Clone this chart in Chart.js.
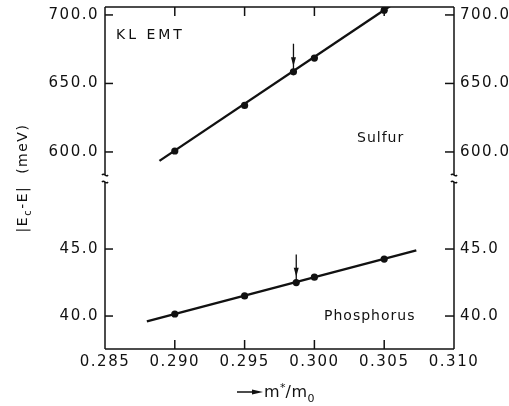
<!DOCTYPE html>
<html>
<head>
<meta charset="utf-8">
<script src="https://cdn.jsdelivr.net/npm/chart.js@4"></script>
<style>
  html, body { margin: 0; padding: 0; background: #fff; }
  canvas { display: block; }
</style>
</head>
<body>
<canvas id="chart" width="509" height="406"></canvas>
<script>
const xTicks = [0.285, 0.290, 0.295, 0.300, 0.305, 0.310];
const sulfurTicks = [600, 650, 700];
const phosTicks = [40, 45];

const sulfurX = [0.2900, 0.2950, 0.2985, 0.3000, 0.3050];
const sulfurY = [600.7, 634.0, 658.5, 668.5, 703.5];
const sulfurFitX = [0.2889, 0.3055];
const sulfurFitY = [593.5, 707.0];

const phosX = [0.2900, 0.2950, 0.2987, 0.3000, 0.3050];
const phosY = [40.15, 41.5, 42.5, 42.9, 44.25];
const phosFitX = [0.2880, 0.3073];
const phosFitY = [39.6, 44.9];

// marked points: x, arrow start, arrow end
const sulfurArrow = [0.2985, 679, 659];
const phosArrow = [0.2987, 44.6, 42.55];

const ink = "#111";
const font = "DejaVu Sans";

function pts(xs, ys) {
  return xs.map((x, i) => ({ x: x, y: ys[i] }));
}

function fixTicks(list) {
  return (scale) => { scale.ticks = list.map((v) => ({ value: v })); };
}

function fixSize(w, h) {
  return (scale) => {
    if (w) scale.width = w;
    if (h) scale.height = h;
    scale.paddingTop = scale.paddingBottom = 0;
    scale.paddingLeft = scale.paddingRight = 0;
  };
}

function yScale(pos, min, max, ticks, width) {
  return {
    type: "linear",
    position: pos,
    stack: pos,
    stackWeight: 1,
    min: min,
    max: max,
    afterBuildTicks: fixTicks(ticks),
    afterFit: fixSize(width, 0),
    grid: { display: false, drawTicks: false },
    border: { display: false },
    ticks: {
      color: ink,
      font: { family: font, size: 15 },
      padding: 6,
      callback: (v) => Number(v).toFixed(1),
    },
  };
}

function line(ctx, x1, y1, x2, y2) {
  ctx.beginPath();
  ctx.moveTo(x1, y1);
  ctx.lineTo(x2, y2);
  ctx.stroke();
}

function squiggle(ctx, x, y) {
  ctx.beginPath();
  ctx.moveTo(x - 3, y);
  ctx.bezierCurveTo(x - 1, y - 3, x + 1, y + 3, x + 3, y);
  ctx.stroke();
}

function text(ctx, str, x, y, size, spacing) {
  ctx.font = size + 'px "' + font + '"';
  ctx.letterSpacing = spacing + "px";
  ctx.fillText(str, x, y);
  return x + ctx.measureText(str).width;
}

function arrow(ctx, xs, ys, spec) {
  const x = xs.getPixelForValue(spec[0]);
  const y1 = ys.getPixelForValue(spec[1]);
  const y2 = ys.getPixelForValue(spec[2]);
  line(ctx, x, y1, x, y2);
  const tip = y2 - 5;
  ctx.beginPath();
  ctx.moveTo(x, tip);
  ctx.lineTo(x - 2.5, tip - 9);
  ctx.lineTo(x + 2.5, tip - 9);
  ctx.closePath();
  ctx.fill();
}

const spacing = {
  id: "spacing",
  beforeUpdate(chart) { chart.ctx.letterSpacing = "1.5px"; },
};

const frame = {
  id: "frame",
  afterDraw(chart) {
    const { ctx, chartArea: a, scales: s } = chart;
    ctx.save();
    ctx.strokeStyle = ink;
    ctx.fillStyle = ink;
    ctx.lineWidth = 1.5;

    line(ctx, a.left, a.top, a.right, a.top);
    line(ctx, a.left, a.bottom, a.right, a.bottom);

    const split = s.yTop.bottom;
    [a.left, a.right].forEach((x) => {
      line(ctx, x, a.top, x, split - 3);
      line(ctx, x, split + 4, x, a.bottom);
      squiggle(ctx, x, split - 3);
      squiggle(ctx, x, split + 4);
    });

    [s.yTop, s.yBot].forEach((sc) => {
      sc.ticks.forEach((t) => {
        const py = sc.getPixelForValue(t.value);
        line(ctx, a.left, py, a.left + 8, py);
        line(ctx, a.right - 9, py, a.right, py);
      });
    });

    s.x.ticks.forEach((t, i) => {
      if (i === 0 || i === s.x.ticks.length - 1) return;
      const px = s.x.getPixelForValue(t.value);
      line(ctx, px, a.bottom, px, a.bottom - 9);
      line(ctx, px, a.top, px, a.top + 9);
    });

    ctx.lineWidth = 1.3;
    arrow(ctx, s.x, s.yTop, sulfurArrow);
    arrow(ctx, s.x, s.yBot, phosArrow);

    ctx.textBaseline = "alphabetic";
    ctx.textAlign = "left";
    text(ctx, "KL EMT", a.left + 11, a.top + 32, 14, 3);
    text(ctx, "Sulfur", 357, 142, 14, 1);
    text(ctx, "Phosphorus", 324, 320, 14, 1);

    // y title, rotated
    ctx.save();
    ctx.translate(21, 178);
    ctx.rotate(-Math.PI / 2);
    const parts = [["|E", 14, 0], ["c", 10, 4], ["-E|  (meV)", 14, 0]];
    let total = 0;
    parts.forEach((p) => {
      ctx.font = p[1] + 'px "' + font + '"';
      ctx.letterSpacing = "1.5px";
      total += ctx.measureText(p[0]).width;
    });
    let tx = -total / 2;
    parts.forEach((p) => { tx = text(ctx, p[0], tx, 6 + p[2], p[1], 1.5); });
    ctx.restore();

    // x title with arrow
    const ay = 392;
    ctx.lineWidth = 1.5;
    line(ctx, 237, ay, 254, ay);
    ctx.beginPath();
    ctx.moveTo(263, ay);
    ctx.lineTo(252, ay - 2.5);
    ctx.lineTo(252, ay + 2.5);
    ctx.closePath();
    ctx.fill();
    let mx = text(ctx, "m", 264, 397, 16, 0.5);
    mx = text(ctx, "*", mx, 391, 11, 0);
    mx = text(ctx, "/m", mx, 397, 16, 0.5);
    text(ctx, "0", mx, 402, 11, 0);

    ctx.restore();
  },
};

new Chart(document.getElementById("chart"), {
  type: "scatter",
  data: {
    datasets: [
      { data: pts(sulfurFitX, sulfurFitY), yAxisID: "yTop", showLine: true, pointRadius: 0, borderColor: ink, borderWidth: 2.4 },
      { data: pts(sulfurX, sulfurY), yAxisID: "yTop", pointRadius: 3.6, backgroundColor: ink, borderWidth: 0 },
      { data: pts(phosFitX, phosFitY), yAxisID: "yBot", showLine: true, pointRadius: 0, borderColor: ink, borderWidth: 2.4 },
      { data: pts(phosX, phosY), yAxisID: "yBot", pointRadius: 3.6, backgroundColor: ink, borderWidth: 0 },
    ],
  },
  options: {
    responsive: false,
    animation: false,
    devicePixelRatio: 1,
    events: [],
    layout: { padding: { top: 7, left: 0, right: 0, bottom: 0 } },
    plugins: { legend: { display: false }, tooltip: { enabled: false } },
    scales: {
      x: {
        type: "linear",
        position: "bottom",
        min: 0.285,
        max: 0.310,
        afterBuildTicks: fixTicks(xTicks),
        afterFit: fixSize(0, 57),
        grid: { display: false, drawTicks: false },
        border: { display: false },
        ticks: {
          color: ink,
          font: { family: font, size: 15 },
          padding: 4,
          maxRotation: 0,
          autoSkip: false,
          callback: (v) => Number(v).toFixed(3),
        },
      },
      yBot: yScale("left", 37.54, 50.3, phosTicks, 105),
      yTop: yScale("left", 581.0, 705.8, sulfurTicks, 105),
      yTopR: yScale("right", 581.0, 705.8, sulfurTicks, 55),
      yBotR: yScale("right", 37.54, 50.3, phosTicks, 55),
    },
  },
  plugins: [spacing, frame],
});
</script>
</body>
</html>
